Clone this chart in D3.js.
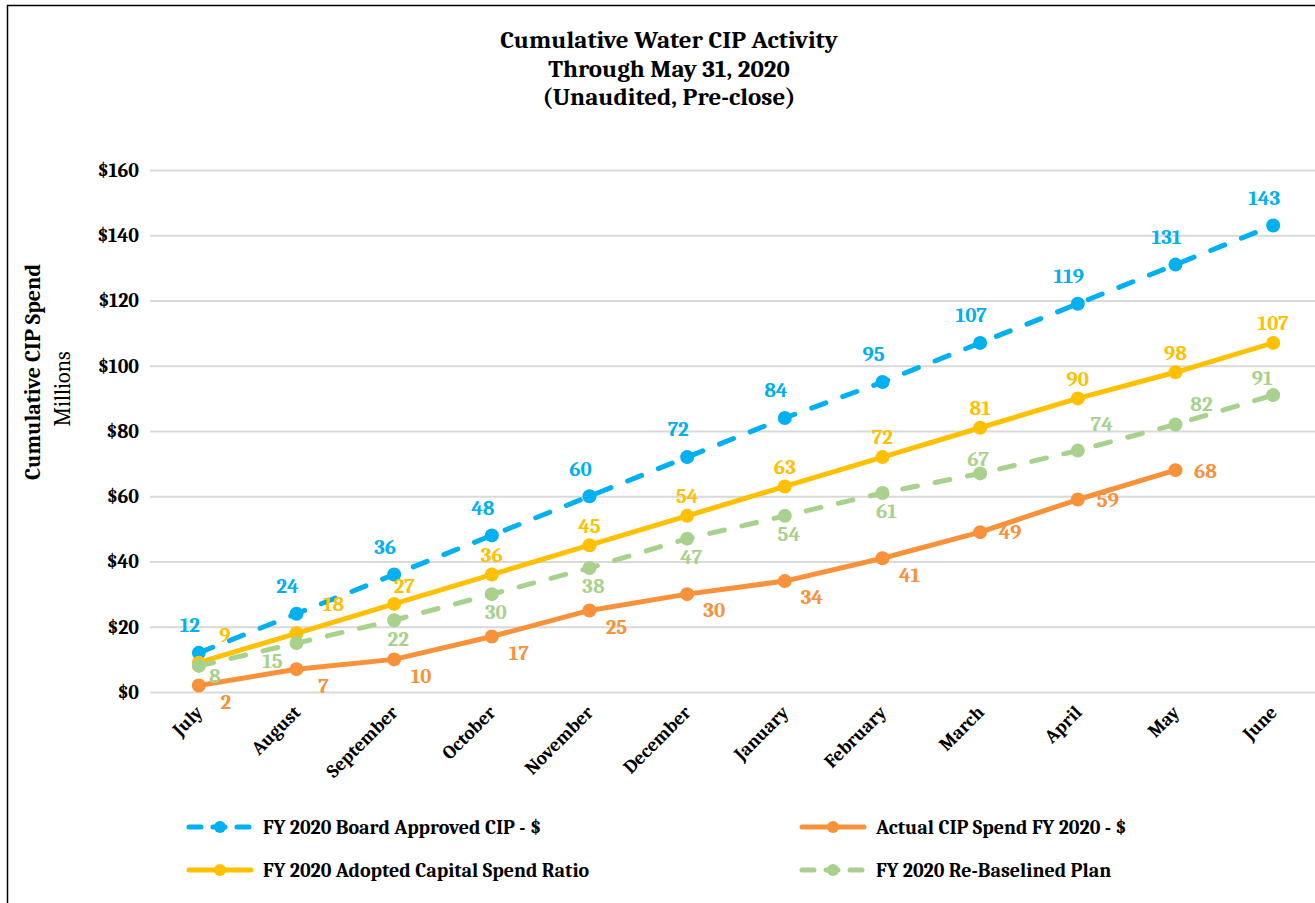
<!DOCTYPE html>
<html>
<head>
<meta charset="utf-8">
<script src="https://cdn.jsdelivr.net/npm/d3@7"></script>
<style>
  body { margin: 0; background: #fff; }
  svg { display: block; font-family: Cambria, Caladea, "DejaVu Serif", serif; }
  .title { font-size: 25px; font-weight: bold; }
  .tick text { font-size: 20px; font-weight: bold; fill: #000; }
  .grid line { stroke: #d9d9d9; stroke-width: 2; }
  .grid path { display: none; }
  .dlabel { font-size: 21px; font-weight: bold; }
  .legend text { font-size: 20px; font-weight: bold; }
</style>
</head>
<body>
<svg width="1315" height="903"></svg>
<script>
// data
const months = ['July', 'August', 'September', 'October', 'November', 'December',
    'January', 'February', 'March', 'April', 'May', 'June'];
const boardApproved = [12, 24, 36, 48, 60, 72, 84, 95, 107, 119, 131, 143];
const actualSpend = [2, 7, 10, 17, 25, 30, 34, 41, 49, 59, 68];
const adoptedRatio = [9, 18, 27, 36, 45, 54, 63, 72, 81, 90, 98, 107];
const reBaselined = [8, 15, 22, 30, 38, 47, 54, 61, 67, 74, 82, 91];
const yTicks = [0, 20, 40, 60, 80, 100, 120, 140, 160];

const series = [
    { name: 'FY 2020 Board Approved CIP - $', values: boardApproved, color: '#00b0f0', dash: true,
      off: [-9, -28], nudge: {} },
    { name: 'Actual CIP Spend FY 2020 - $', values: actualSpend, color: '#f7923a', dash: false,
      off: [27, 16], nudge: { 8: [30, 0], 9: [30, 0], 10: [30, 0] } },
    { name: 'FY 2020 Adopted Capital Spend Ratio', values: adoptedRatio, color: '#ffc000', dash: false,
      off: [0, -20], nudge: { 0: [26, -28], 1: [37, -30], 2: [10, -18] } },
    { name: 'FY 2020 Re-Baselined Plan', values: reBaselined, color: '#a9d18e', dash: true,
      off: [4, 18], nudge: { 0: [16, 10], 1: [-24, 18], 8: [-2, -15], 9: [24, -27], 10: [26, -21], 11: [-11, -17] } }
];

const svg = d3.select('svg');

// outer frame (only top/left edge visible)
svg.append('rect')
    .attr('x', 7.5).attr('y', 5.5)
    .attr('width', 1400).attr('height', 1000)
    .attr('fill', 'none').attr('stroke', '#000').attr('stroke-width', 1.5);

const plotLeft = 150, plotRight = 1322, plotTop = 170, plotBottom = 692;

const xScale = d3.scalePoint()
    .domain(months)
    .range([plotLeft, plotRight])
    .padding(0.5);

const yScale = d3.scaleLinear()
    .domain([0, 160])
    .range([plotBottom, plotTop]);

// title
const titleLines = ['Cumulative Water CIP Activity', 'Through May 31, 2020', '(Unaudited, Pre-close)'];
svg.selectAll('.title')
    .data(titleLines)
    .enter()
    .append('text')
    .attr('class', 'title')
    .attr('x', 669)
    .attr('y', (d, i) => 48 + i * 28.5)
    .attr('text-anchor', 'middle')
    .text(d => d);

// gridlines + y labels
const yAxis = svg.append('g')
    .attr('class', 'grid')
    .attr('transform', `translate(${plotLeft}, 0)`)
    .call(d3.axisLeft(yScale)
        .tickValues(yTicks)
        .tickSize(-(plotRight - plotLeft))
        .tickFormat(d => '$' + d))
    .attr('font-family', null).attr('font-size', null);
yAxis.selectAll('.tick text').attr('x', -11);

// x labels
const xAxis = svg.append('g')
    .attr('transform', `translate(0, ${plotBottom})`)
    .call(d3.axisBottom(xScale).tickSize(0))
    .attr('font-family', null).attr('font-size', null);
xAxis.select('.domain').remove();
xAxis.selectAll('.tick text')
    .style('font-size', '19px')
    .attr('text-anchor', 'end')
    .attr('transform', 'translate(-5, 12) rotate(-45)')
    .attr('x', 0).attr('y', 0).attr('dy', '0.71em');

// axis titles
svg.append('text')
    .attr('transform', 'translate(40, 372) rotate(-90)')
    .attr('text-anchor', 'middle')
    .style('font-size', '22px').style('font-weight', 'bold')
    .text('Cumulative CIP Spend');
svg.append('text')
    .attr('transform', 'translate(70, 389) rotate(-90)')
    .attr('text-anchor', 'middle')
    .style('font-size', '22px')
    .text('Millions');

const line = d3.line()
    .x((d, i) => xScale(months[i]))
    .y(d => yScale(d));

series.forEach(s => {
    const g = svg.append('g');
    g.append('path')
        .datum(s.values)
        .attr('d', line)
        .attr('fill', 'none')
        .attr('stroke', s.color)
        .attr('stroke-width', 5)
        .attr('stroke-linecap', 'round')
        .attr('stroke-linejoin', 'round')
        .attr('stroke-dasharray', s.dash ? '15,18' : null);
    g.selectAll('circle')
        .data(s.values)
        .enter()
        .append('circle')
        .attr('cx', (d, i) => xScale(months[i]))
        .attr('cy', d => yScale(d))
        .attr('r', 7)
        .attr('fill', s.color);
});

// data labels
series.forEach(s => {
    svg.append('g').selectAll('text')
        .data(s.values)
        .enter()
        .append('text')
        .attr('class', 'dlabel')
        .attr('x', (d, i) => xScale(months[i]) + (s.nudge[i] || s.off)[0])
        .attr('y', (d, i) => yScale(d) + (s.nudge[i] || s.off)[1])
        .attr('dy', '0.35em')
        .attr('text-anchor', 'middle')
        .attr('fill', s.color)
        .text(d => d);
});

// legend
const legendPos = [[187, 827], [800, 827], [187, 870], [800, 870]];
series.forEach((s, i) => {
    const lg = svg.append('g')
        .attr('class', 'legend')
        .attr('transform', `translate(${legendPos[i][0]}, ${legendPos[i][1]})`);
    lg.append('line')
        .attr('x1', 2).attr('x2', 64)
        .attr('stroke', s.color)
        .attr('stroke-width', 5)
        .attr('stroke-linecap', 'round')
        .attr('stroke-dasharray', s.dash ? '12,12' : null);
    lg.append('circle')
        .attr('cx', 33).attr('r', 6)
        .attr('fill', s.color);
    lg.append('text')
        .attr('x', 76)
        .attr('dy', '0.35em')
        .text(s.name);
});
</script>
</body>
</html>
